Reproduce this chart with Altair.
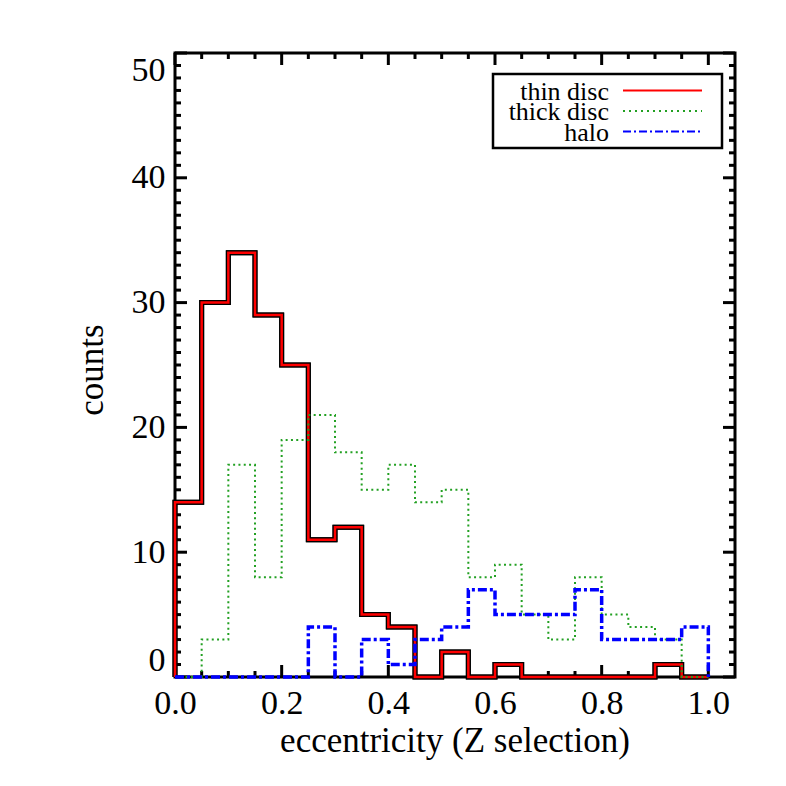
import altair as alt
import pandas as pd

# ---- data ----
bin_edges = [0.00, 0.05, 0.10, 0.15, 0.20, 0.25, 0.30, 0.35, 0.40, 0.45, 0.50,
             0.55, 0.60, 0.65, 0.70, 0.75, 0.80, 0.85, 0.90, 0.95, 1.00]
thin_disc = [14, 30, 34, 29, 25, 11, 12, 5, 4, 0, 2, 0, 1, 0, 0, 0, 0, 0, 1, 0]
thick_disc = [0, 3, 17, 8, 19, 21, 18, 15, 17, 14, 15, 8, 9, 5, 3, 8, 5, 4, 3, 0]
halo = [0, 0, 0, 0, 0, 4, 0, 3, 1, 3, 4, 7, 5, 5, 5, 7, 3, 3, 3, 4]

x_major = [0.0, 0.2, 0.4, 0.6, 0.8, 1.0]
x_minor = [round(0.05 * i, 2) for i in range(1, 21) if i % 4 != 0]
y_major = [0, 10, 20, 30, 40, 50]
y_minor = [i for i in range(1, 50) if i % 10 != 0]

legend_names = ["thin disc", "thick disc", "halo"]
x_title = "eccentricity (Z selection)"
y_title = "counts"

W, H = 560, 624
FONT = "Liberation Serif"


def step_df(counts):
    xs = [bin_edges[0]]
    ys = [0]
    for i, c in enumerate(counts):
        xs.append(bin_edges[i])
        ys.append(c)
    xs.append(bin_edges[-1])
    ys.append(counts[-1])
    xs.append(bin_edges[-1])
    ys.append(0)
    return pd.DataFrame({"x": xs, "y": ys, "o": list(range(len(xs)))})


xscale = alt.Scale(domain=[0, 1.05], nice=False, zero=False)
yscale = alt.Scale(domain=[0, 50], nice=False)

xa = alt.Axis(values=x_major, format=".1f", ticks=False, domain=False, grid=False,
              labelFlush=False, labelPadding=9, title=None)
ya = alt.Axis(values=y_major, format="d", ticks=False, domain=False, grid=False,
              labelFlush=True, labelPadding=10, title=None)


def line(counts, color, width, dash=None):
    kw = dict(interpolate="step-after", color=color, strokeWidth=width,
              strokeCap="butt", strokeJoin="miter")
    if dash:
        kw["strokeDash"] = dash
    return alt.Chart(step_df(counts)).mark_line(**kw).encode(
        x=alt.X("x:Q", scale=xscale, axis=xa),
        y=alt.Y("y:Q", scale=yscale, axis=ya),
        order="o:Q",
    )


def xticks(vals, length):
    df = pd.DataFrame({"v": vals})
    bot = alt.Chart(df).mark_rule(color="black", strokeWidth=3).encode(
        x=alt.X("v:Q", scale=xscale, axis=xa), y=alt.value(H), y2=alt.value(H - length))
    top = alt.Chart(df).mark_rule(color="black", strokeWidth=3).encode(
        x=alt.X("v:Q", scale=xscale, axis=xa), y=alt.value(0), y2=alt.value(length))
    return [bot, top]


def yticks(vals, length):
    df = pd.DataFrame({"v": vals})
    left = alt.Chart(df).mark_rule(color="black", strokeWidth=3).encode(
        y=alt.Y("v:Q", scale=yscale, axis=ya), x=alt.value(0), x2=alt.value(length))
    right = alt.Chart(df).mark_rule(color="black", strokeWidth=3).encode(
        y=alt.Y("v:Q", scale=yscale, axis=ya), x=alt.value(W), x2=alt.value(W - length))
    return [left, right]


layers = []
layers.append(line(thin_disc, "black", 5))
layers += xticks(x_major, 12) + xticks(x_minor, 6)
layers += yticks(y_major, 12) + yticks(y_minor, 6)
layers.append(line(thin_disc, "black", 5))
layers.append(line(thin_disc, "#ff0000", 2.5))
layers.append(line(thick_disc, "#22a022", 2, dash=[2, 3.3]))
layers.append(line(halo, "#0000ff", 3.5, dash=[9, 3, 3, 3]))

# ---- axis titles as text marks ----
layers.append(alt.Chart(pd.DataFrame({"t": [x_title]})).mark_text(
    align="center", baseline="alphabetic", font=FONT, fontSize=35, color="black").encode(
    text="t:N", x=alt.value(W / 2), y=alt.value(H + 75)))
layers.append(alt.Chart(pd.DataFrame({"t": [y_title]})).mark_text(
    align="center", baseline="alphabetic", font=FONT, fontSize=35, color="black", angle=270).encode(
    text="t:N", x=alt.value(-72), y=alt.value(H / 2 + 5)))

# ---- legend (drawn in pixel space) ----
one = pd.DataFrame({"a": [0]})
box = alt.Chart(one).mark_rect(fill="white", stroke="black", strokeWidth=2.5).encode(
    x=alt.value(318), x2=alt.value(547), y=alt.value(21), y2=alt.value(95))
layers.append(box)
leg_colors = ["#ff0000", "#22a022", "#0000ff"]
leg_dash = [[1, 0], [2, 4], [8, 3, 2, 3]]
leg_y = [37.5, 58, 78.5]
for name, col, dash, yy in zip(legend_names, leg_colors, leg_dash, leg_y):
    layers.append(alt.Chart(pd.DataFrame({"t": [name]})).mark_text(
        align="right", baseline="middle", font=FONT, fontSize=26, color="black", dy=1).encode(
        text="t:N", x=alt.value(434), y=alt.value(yy)))
    layers.append(alt.Chart(one).mark_rule(color=col, strokeWidth=2, strokeDash=dash).encode(
        x=alt.value(448), x2=alt.value(527), y=alt.value(yy)))

chart = alt.layer(*layers).properties(
    width=W, height=H,
    background="white",
    autosize=alt.AutoSizeParams(type="none"),
    padding={"left": 167, "top": 45, "right": 43, "bottom": 101},
).configure(font=FONT).configure_view(stroke="black", strokeWidth=3).configure_axis(
    labelFont=FONT, labelFontSize=34, labelColor="black",
)

chart.save("out.html", embed_options={"renderer": "svg", "actions": False})
